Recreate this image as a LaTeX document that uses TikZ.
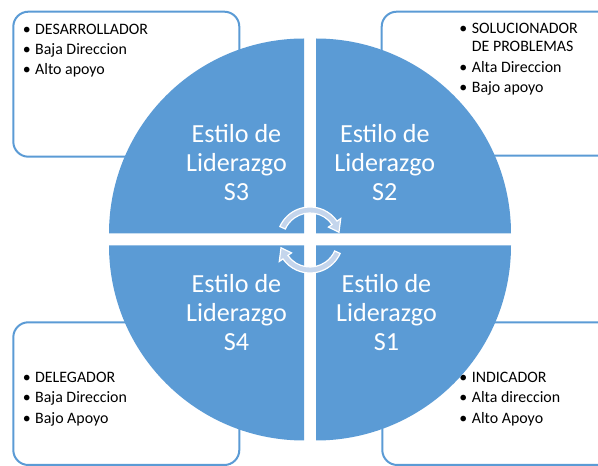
\documentclass[tikz,border=0pt]{standalone}
\usepackage{fontspec}
\setmainfont{Carlito}
\definecolor{accent}{RGB}{91,155,213}
\definecolor{arrowfill}{RGB}{196,213,236}
\begin{document}
\begin{tikzpicture}[x=1pt,y=1pt,
  box/.style={draw=accent, line width=2pt, fill=white, rounded corners=15pt},
  quad/.style={fill=accent},
  quadtext/.style={text=white, font=\fontsize{26.1}{29}\selectfont, align=center, inner sep=0pt, anchor=base},
  listtext/.style={font=\fontsize{15.9}{20.4}\selectfont, align=left, inner sep=0pt, anchor=base west},
  cyc/.style={fill=arrowfill, draw=white, line width=1.2pt, line join=miter}
]
\useasboundingbox (0,0) rectangle (598,466);
\clip (0,0) rectangle (598,466);
\newcommand{\bul}{\llap{\textbullet\hspace{4.5pt}}}
% boxes
\draw[box] (13.3,309.3) rectangle (239.3,454.3);
\draw[box] (381.7,310.3) rectangle (640,454.3);
\draw[box] (13.3,1) rectangle (239.3,143.7);
\draw[box] (382.3,1) rectangle (640,143.7);
% box texts (anchor base = last line)
\node[listtext] (tl) at (35,391) {\bul DESARROLLADOR\\ \bul Baja Direccion\\ \bul Alto apoyo};
\node[listtext] (tr) at (471.7,373.3) {\bul SOLUCIONADOR\\[-2.3pt] DE PROBLEMAS\\ \bul Alta Direccion\\ \bul Bajo apoyo};
\node[listtext] (bl) at (35,42.7) {\bul DELEGADOR\\ \bul Baja Direccion\\ \bul Bajo Apoyo};
\node[listtext] (br) at (471.7,42.7) {\bul INDICADOR\\ \bul Alta direccion\\ \bul Alto Apoyo};
% quadrants
\fill[quad] (304,232.5) -- ++(-195,0) arc[start angle=180, end angle=90, radius=195] -- cycle;
\fill[quad] (316,232.5) -- ++(0,195) arc[start angle=90, end angle=0, radius=195] -- cycle;
\fill[quad] (304,220.5) -- ++(0,-195) arc[start angle=270, end angle=180, radius=195] -- cycle;
\fill[quad] (316,220.5) -- ++(195,0) arc[start angle=0, end angle=-90, radius=195] -- cycle;
% quadrant texts
\node[quadtext] (s3) at (236.5,265) {Estilo de\\Liderazgo\\S3};
\node[quadtext] (s2) at (384.8,265) {Estilo de\\Liderazgo\\S2};
\node[quadtext] (s4) at (236.5,115) {Estilo de\\Liderazgo\\S4};
\node[quadtext] (s1) at (386.5,115) {Estilo de\\Liderazgo\\S1};
% circular arrows
\coordinate (c) at (310,226);
\begin{scope}[shift={(c)}]
\path[cyc] (156:33) arc[start angle=156, end angle=35, radius=33] -- (35:37.5) -- (15:30) -- (35:22.5) -- (35:27) arc[start angle=35, end angle=156, radius=27] -- cycle;
\path[cyc] (336:33) arc[start angle=336, end angle=215, radius=33] -- (215:37.5) -- (195:30) -- (215:22.5) -- (215:27) arc[start angle=215, end angle=336, radius=27] -- cycle;
\end{scope}
\end{tikzpicture}
\end{document}
